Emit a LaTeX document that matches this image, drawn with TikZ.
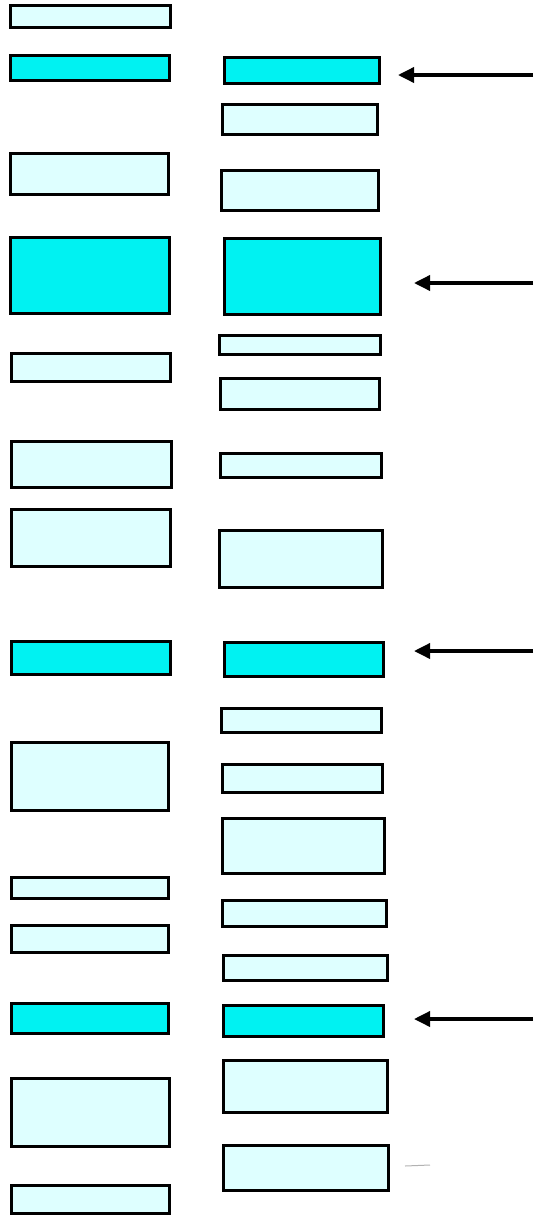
\documentclass[tikz,border=0pt]{standalone}
\usetikzlibrary{arrows.meta}
\definecolor{band}{RGB}{0,242,242}
\definecolor{pale}{RGB}{222,255,255}
\tikzset{
  bx/.style={draw=black, line width=3pt, rectangle, inner sep=0pt, outer sep=0pt, anchor=north west},
  lb/.style={bx, fill=pale},
  hb/.style={bx, fill=band},
  sz/.style 2 args={minimum width=#1pt, minimum height=#2pt},
  arr/.style={line width=3.5pt, -{Triangle[length=16pt,width=15pt]}},
}
\begin{document}
\begin{tikzpicture}[x=1pt,y=-1pt]
\useasboundingbox (0,0) rectangle (533,1218);
% left column
\node[lb,sz={160}{22}] (L1) at (10,5) {};
\node[hb,sz={159}{25}] (L2) at (10,55) {};
\node[lb,sz={158}{41}] (L3) at (10,153) {};
\node[hb,sz={159}{76}] (L4) at (10,237) {};
\node[lb,sz={159}{28}] (L5) at (11,353) {};
\node[lb,sz={160}{46}] (L6) at (11,441) {};
\node[lb,sz={159}{57}] (L7) at (11,509) {};
\node[hb,sz={159}{33}] (L8) at (11,641) {};
\node[lb,sz={157}{68}] (L9) at (11,742) {};
\node[lb,sz={157}{21}] (L10) at (11,877) {};
\node[lb,sz={157}{27}] (L11) at (11,925) {};
\node[hb,sz={157}{30}] (L12) at (11,1003) {};
\node[lb,sz={158}{68}] (L13) at (11,1078) {};
\node[lb,sz={158}{28}] (L14) at (11,1185) {};
% right column
\node[hb,sz={155}{26}] (R1) at (224,57) {};
\node[lb,sz={155}{30}] (R2) at (222,104) {};
\node[lb,sz={157}{40}] (R3) at (221,170) {};
\node[hb,sz={156}{76}] (R4) at (224,238) {};
\node[lb,sz={161}{19}] (R5) at (219,335) {};
\node[lb,sz={159}{31}] (R6) at (220,378) {};
\node[lb,sz={161}{24}] (R7) at (220,453) {};
\node[lb,sz={163}{57}] (R8) at (219,530) {};
\node[hb,sz={159}{34}] (R9) at (224,642) {};
\node[lb,sz={160}{24}] (R10) at (221,708) {};
\node[lb,sz={160}{28}] (R11) at (222,764) {};
\node[lb,sz={162}{55}] (R12) at (222,818) {};
\node[lb,sz={164}{26}] (R13) at (222,900) {};
\node[lb,sz={164}{25}] (R14) at (223,955) {};
\node[hb,sz={160}{31}] (R15) at (223,1005) {};
\node[lb,sz={164}{52}] (R16) at (223,1060) {};
\node[lb,sz={165}{45}] (R17) at (223,1145) {};
% arrows
\coordinate (s1) at (533,75);   \coordinate (t1) at (398,75);
\coordinate (s2) at (533,283);  \coordinate (t2) at (414,283);
\coordinate (s3) at (533,651);  \coordinate (t3) at (414,651);
\coordinate (s4) at (533,1019); \coordinate (t4) at (414,1019);
\draw[arr] (s1) -- (t1);
\draw[arr] (s2) -- (t2);
\draw[arr] (s3) -- (t3);
\draw[arr] (s4) -- (t4);
% faint stray mark
\coordinate (m1) at (405,1166); \coordinate (m2) at (430,1165);
\draw[gray!60, line width=1pt] (m1) -- (m2);
\end{tikzpicture}
\end{document}
